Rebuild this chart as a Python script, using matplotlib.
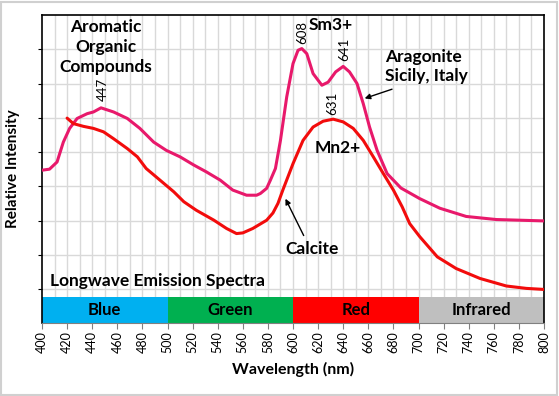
import matplotlib.pyplot as plt
from matplotlib.patches import Rectangle

plt.rcParams['font.family'] = ['Lato', 'DejaVu Sans']

# Aragonite (Sicily, Italy) spectrum
pink_nm = [400, 406, 412, 417, 422, 428, 436, 441, 447, 457, 468, 478, 489, 499,
           510, 521, 531, 542, 552, 563, 571, 574, 579, 582, 586, 590, 595, 600,
           604, 607, 611, 616, 623, 628, 634, 640, 645, 651, 656, 661, 667, 675,
           686, 701, 717, 738, 762, 800]
pink_y = [3.47, 3.50, 3.71, 4.29, 4.69, 4.98, 5.12, 5.17, 5.29, 5.17, 4.98, 4.69,
          4.29, 4.05, 3.86, 3.62, 3.42, 3.18, 2.89, 2.74, 2.74, 2.79, 2.94, 3.18,
          3.52, 4.34, 5.61, 6.58, 6.97, 7.02, 6.87, 6.29, 5.95, 6.04, 6.34, 6.50,
          6.34, 6.00, 5.41, 4.73, 4.05, 3.37, 2.95, 2.64, 2.36, 2.12, 2.03, 1.99]

# Calcite spectrum
red_nm = [420, 425, 433, 441, 449, 457, 468, 476, 483, 494, 505, 513, 523, 537,
          547, 555, 560, 568, 579, 584, 588, 592, 600, 608, 616, 624, 632, 640,
          648, 656, 664, 672, 680, 687, 693, 701, 715, 730, 749, 770, 786, 800]
red_y = [4.99, 4.83, 4.75, 4.69, 4.59, 4.39, 4.10, 3.86, 3.52, 3.18, 2.84, 2.55,
         2.30, 2.01, 1.77, 1.62, 1.64, 1.77, 2.01, 2.22, 2.50, 2.90, 3.66, 4.34,
         4.73, 4.90, 4.96, 4.88, 4.69, 4.34, 3.86, 3.37, 2.89, 2.40, 1.91, 1.53,
         0.94, 0.60, 0.31, 0.09, 0.02, -0.01]

# colour bands along the bottom
band_names = ['Blue', 'Green', 'Red', 'Infrared']
band_start = [400, 500, 600, 700]
band_colors = ['#00B0F0', '#00B050', '#FF0000', '#BFBFBF']

fig = plt.figure(figsize=(5.59, 3.96), dpi=100)
ax = fig.add_axes([42 / 559, 1 - 323 / 396, 502 / 559, 308 / 396])

ymin, ymax = -0.99, 8.0
ax.set_xlim(400, 800)
ax.set_ylim(ymin, ymax)

# grid
for x in range(410, 800, 10):
    ax.axvline(x, color='#D9D9D9', lw=1, zorder=0)
for y in range(0, 8):
    ax.axhline(y, color='#D9D9D9', lw=1, zorder=0)

# bands
for name, start, c in zip(band_names, band_start, band_colors):
    ax.bar(start, -0.24 - ymin, width=100, bottom=ymin, align='edge', color=c,
           edgecolor='none', zorder=2)
    ax.text(start + 50, -0.61, name, ha='center', va='center', fontsize=12,
            fontweight='bold', zorder=3)

ax.plot(pink_nm, pink_y, color='#E8196B', lw=2.2, zorder=4,
        solid_capstyle='round', solid_joinstyle='round')
ax.plot(red_nm, red_y, color='#F20C0C', lw=2.2, zorder=4,
        solid_capstyle='round', solid_joinstyle='round')

# annotations
ax.text(451, 7.06, 'Aromatic\nOrganic\nCompounds', ha='center', va='center',
        fontsize=12.5, fontweight='bold', linespacing=1.3)
ax.text(448.6, 5.5, '447', rotation=90, ha='center', va='bottom', fontsize=9.5)
ax.text(607, 7.15, '608', rotation=90, ha='center', va='bottom', fontsize=9.5)
ax.text(630, 7.72, 'Sm3+', ha='center', va='center', fontsize=12.5, fontweight='bold')
ax.text(641, 6.65, '641', rotation=90, ha='center', va='bottom', fontsize=9.5)
ax.text(673, 6.5, 'Aragonite\nSicily, Italy', ha='left', va='center',
        fontsize=12.5, fontweight='bold', linespacing=1.25)
ax.annotate('', xy=(655, 5.54), xytext=(681, 5.86),
            arrowprops=dict(arrowstyle='-|>', color='black', lw=1,
                            mutation_scale=8))
ax.text(631, 5.08, '631', rotation=90, ha='center', va='bottom', fontsize=9.5)
ax.text(636, 4.11, 'Mn2+', ha='center', va='center', fontsize=12.5, fontweight='bold')
ax.text(615, 1.17, 'Calcite', ha='center', va='center', fontsize=12.5, fontweight='bold')
ax.annotate('', xy=(593, 2.71), xytext=(609.5, 1.49),
            arrowprops=dict(arrowstyle='-|>', color='black', lw=1,
                            mutation_scale=8))
ax.text(406, 0.23, 'Longwave Emission Spectra', ha='left', va='center',
        fontsize=12.5, fontweight='bold')

# axes styling
ax.set_xticks(range(400, 801, 20))
ax.set_xticklabels([str(v) for v in range(400, 801, 20)], rotation=90, fontsize=9)
ax.set_yticks(range(0, 8))
ax.set_yticklabels([])
ax.tick_params(axis='x', direction='out', length=4, color='#808080', pad=2)
ax.tick_params(axis='y', direction='out', length=3, color='black')
for s in ['left', 'right', 'top']:
    ax.spines[s].set_color('black')
    ax.spines[s].set_linewidth(1.2)
ax.spines['bottom'].set_color('#808080')

ax.set_xlabel('Wavelength (nm)', fontsize=11.5, fontweight='bold', labelpad=6)
ax.set_ylabel('Relative Intensity', fontsize=11, fontweight='bold', labelpad=9)

fig.patches.append(Rectangle((0.002, 0.003), 0.995, 0.993, transform=fig.transFigure,
                             fill=False, edgecolor='#D0D0D0', lw=1.5))

fig.savefig('out.png', dpi=100)
